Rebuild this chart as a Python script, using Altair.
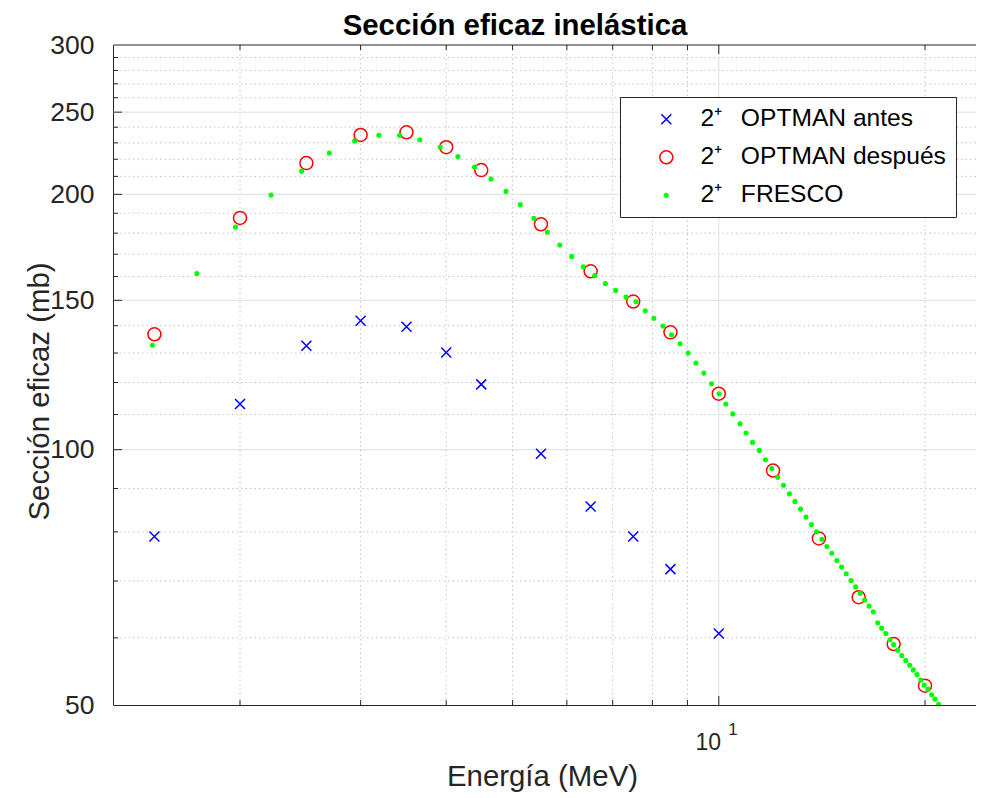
import altair as alt
import pandas as pd

# ---------------- data ----------------
E_antes = [1.5, 2, 2.5, 3, 3.5, 4, 4.5, 5.5, 6.5, 7.5, 8.5, 10]
sig_antes = [79.0, 113.2, 132.6, 141.9, 139.6, 130.2, 119.4, 98.9, 85.7, 79.0, 72.3, 60.7]

E_despues = [1.5, 2, 2.5, 3, 3.5, 4, 4.5, 5.5, 6.5, 7.5, 8.5, 10, 12, 14, 16, 18, 20]
sig_despues = [136.8, 187.6, 217.7, 235.0, 236.7, 227.3, 213.6, 184.4, 162.3, 149.5,
               137.5, 116.4, 94.5, 78.6, 67.0, 59.0, 52.7]

E_fresco = [1.49, 1.73, 1.97, 2.22, 2.46, 2.70, 2.94, 3.19, 3.42, 3.66,
            3.92, 4.16, 4.40, 4.65, 4.89, 5.13, 5.37, 5.62, 5.86, 6.10,
            6.34, 6.59, 6.83, 7.07, 7.32, 7.57, 7.81, 8.04, 8.29, 8.53,
            8.78, 9.02, 9.26, 9.51, 9.76, 10.01, 10.24, 10.48, 10.74, 10.96,
            11.20, 11.46, 11.70, 11.95, 12.19, 12.43, 12.68, 12.92, 13.16, 13.41,
            13.65, 13.89, 14.14, 14.38, 14.62, 14.87, 15.11, 15.35, 15.60, 15.84,
            16.08, 16.33, 16.57, 16.81, 17.06, 17.29, 17.53, 17.78, 18.00, 18.25,
            18.50, 18.75, 19.00, 19.23, 19.47, 19.72, 19.95, 20.20, 20.45, 20.68,
            20.94]
sig_fresco = [132.8, 161.3, 183.0, 199.6, 213.0, 223.7, 231.2, 234.8, 234.8, 232.0,
              227.3, 221.6, 215.4, 208.5, 201.6, 194.5, 187.4, 180.4, 174.3, 169.0,
              164.3, 160.4, 157.0, 154.1, 151.3, 149.4, 145.8, 142.9, 139.9, 136.6,
              133.3, 130.0, 126.5, 123.1, 119.6, 116.4, 113.2, 110.2, 107.3, 104.6,
              102.0, 99.8, 97.3, 95.0, 92.8, 90.8, 88.7, 86.9, 85.1, 83.3,
              81.6, 80.0, 78.4, 76.9, 75.5, 74.0, 72.7, 71.4, 70.1, 68.9,
              67.7, 66.5, 65.4, 64.4, 62.5, 61.6, 60.7, 59.7, 58.9, 58.0,
              57.2, 56.4, 55.7, 55.0, 54.3, 53.5, 52.8, 52.2, 51.4, 50.8,
              50.1]

TITLE = "Sección eficaz inelástica"
SP = "\u00a0\u00a0\u2009"
series = ["2\u207a" + SP + "OPTMAN antes",
          "2\u207a" + SP + "OPTMAN después",
          "2\u207a" + SP + "FRESCO"]
colors = ["#0000ff", "#ff0000", "#00ff00"]
fills = ["transparent", "transparent", "#00ff00"]
sizes = [100, 169, 13]

x_ticks_minor = [2, 3, 4, 5, 6, 7, 8, 9, 20]
x_ticks_major = [10]
y_ticks_minor = [60, 70, 80, 90, 110, 120, 130, 140, 160, 170, 180, 190,
                 210, 220, 230, 240, 260, 270, 280, 290]
y_ticks_major = [100, 150, 200, 250]
y_labels = [50, 100, 150, 200, 250, 300]
x_domain = [1.305, 23.74]
y_domain = [50, 300]

# ---------------- tables ----------------
df = pd.concat([
    pd.DataFrame({"E": E_antes, "sigma": sig_antes, "serie": series[0]}),
    pd.DataFrame({"E": E_despues, "sigma": sig_despues, "serie": series[1]}),
    pd.DataFrame({"E": E_fresco, "sigma": sig_fresco, "serie": series[2]}),
], ignore_index=True)

xminor = pd.DataFrame({"E": x_ticks_minor})
xmajor = pd.DataFrame({"E": x_ticks_major})
yminor = pd.DataFrame({"sigma": y_ticks_minor})
ymajor = pd.DataFrame({"sigma": y_ticks_major})
tdf = pd.DataFrame({"t": [TITLE]})

W, H = 863, 660
FONT = "Liberation Sans"
AX = "#262626"

xscale = alt.Scale(type="log", domain=x_domain, nice=False)
yscale = alt.Scale(type="log", domain=y_domain, nice=False)

xaxis = alt.Axis(values=x_ticks_major, labelExpr="'10'", ticks=False, grid=False,
                 domain=True, domainColor=AX, domainWidth=1,
                 labelFont=FONT, labelFontSize=23, labelColor=AX, labelPadding=26,
                 labelFlush=False, labelOffset=-11,
                 title="Energía (MeV)", titleFont=FONT, titleFontSize=29.4,
                 titleFontWeight="normal", titleColor=AX,
                 titleX=429, titleY=80, titleBaseline="alphabetic", titleAlign="center")
yaxis = alt.Axis(values=y_labels, format="d", ticks=False, grid=False,
                 domain=True, domainColor=AX, domainWidth=1,
                 labelFont=FONT, labelFontSize=26.5, labelColor=AX, labelPadding=19,
                 title="Sección eficaz (mb)", titleFont=FONT, titleFontSize=29.4,
                 titleFontWeight="normal", titleColor=AX,
                 titleX=-65, titleY=346, titleAngle=270,
                 titleBaseline="alphabetic", titleAlign="center")

X = alt.X("E:Q", scale=xscale, axis=xaxis)
Y = alt.Y("sigma:Q", scale=yscale, axis=yaxis)

dot = dict(color="#c4c4c4", strokeWidth=1, strokeDash=[1.5, 3])
solid = dict(color="#dedede", strokeWidth=1)

g1 = alt.Chart(yminor).mark_rule(**dot).encode(y=Y)
g2 = alt.Chart(xminor).mark_rule(**dot).encode(x=X)
g3 = alt.Chart(ymajor).mark_rule(**solid).encode(y=Y)
g4 = alt.Chart(xmajor).mark_rule(**solid).encode(x=X)

tk = dict(color=AX, strokeWidth=1)
t1 = alt.Chart(ymajor).mark_rule(**tk).encode(y=Y, x=alt.value(0), x2=alt.value(9))
t2 = alt.Chart(yminor).mark_rule(**tk).encode(y=Y, x=alt.value(0), x2=alt.value(5))
t3 = alt.Chart(xminor).mark_rule(**tk).encode(x=X, y=alt.value(H), y2=alt.value(H - 5))
t4 = alt.Chart(xmajor).mark_rule(**tk).encode(x=X, y=alt.value(H), y2=alt.value(H - 9))
t5 = alt.Chart(xminor).mark_rule(**tk).encode(x=X, y=alt.value(0), y2=alt.value(5))
t6 = alt.Chart(xmajor).mark_rule(**tk).encode(x=X, y=alt.value(0), y2=alt.value(9))
top = alt.Chart(xmajor).mark_rule(**tk).encode(y=alt.value(0), x=alt.value(0), x2=alt.value(W))

# superscript exponent of the "10" tick label
sup = alt.Chart(xmajor).mark_text(text="1", font=FONT, fontSize=17, color=AX,
                                  align="left", baseline="alphabetic", dx=9.5).encode(
    x=X, y=alt.value(H + 30))

# chart title
title = alt.Chart(tdf).mark_text(font=FONT, fontSize=29.4, fontWeight="bold", color="black",
                                 align="center", baseline="alphabetic").encode(
    text="t:N", x=alt.value(402), y=alt.value(-10))

leg = alt.Legend(title=None, orient="none", legendX=507, legendY=52,
                 fillColor="white", strokeColor=AX, padding=10,
                 labelFont=FONT, labelFontSize=24.6, labelColor="black",
                 symbolOffset=24, labelOffset=22, rowPadding=13,
                 symbolStrokeWidth=1.5, labelLimit=400)

xpath = "M-1,-1L1,1M-1,1L1,-1"
pts = alt.Chart(df).mark_point(strokeWidth=1.5, opacity=1, clip=True).encode(
    x=X, y=Y,
    shape=alt.Shape("serie:N", scale=alt.Scale(domain=series, range=[xpath, "circle", "circle"]), legend=leg),
    stroke=alt.Stroke("serie:N", scale=alt.Scale(domain=series, range=colors), legend=leg),
    fill=alt.Fill("serie:N", scale=alt.Scale(domain=series, range=fills), legend=leg),
    size=alt.Size("serie:N", scale=alt.Scale(type="ordinal", domain=series, range=sizes), legend=leg),
)

chart = alt.layer(g1, g2, g3, g4, t1, t2, t3, t4, t5, t6, top, sup, pts, title).properties(
    width=W, height=H,
    padding={"left": 105, "top": 37, "right": 0, "bottom": 90},
    autosize=alt.AutoSizeParams(type="none"),
    background="white",
).configure_view(stroke=None)

chart.save("out.html", embed_options={"renderer": "svg", "actions": False})
